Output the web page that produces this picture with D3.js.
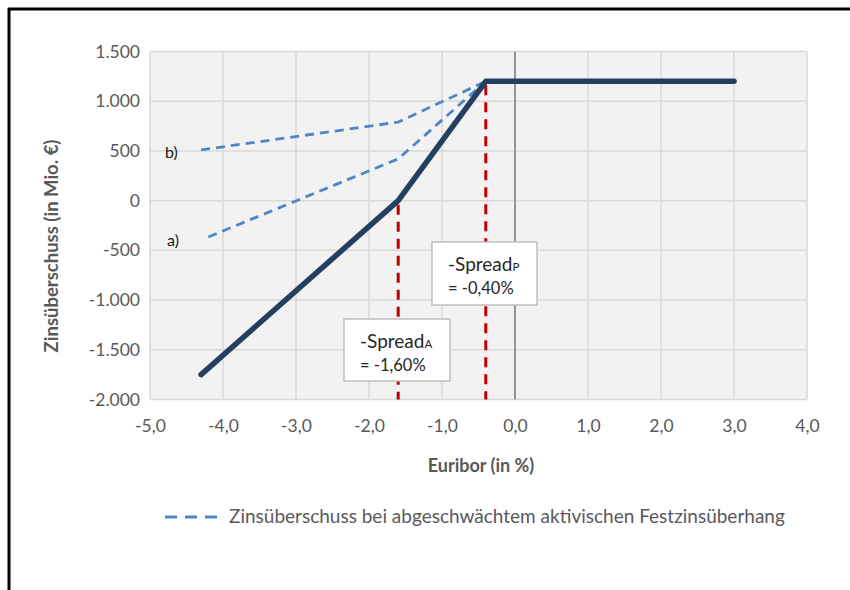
<!DOCTYPE html>
<html><head><meta charset="utf-8">
<script src="https://cdn.jsdelivr.net/npm/d3@7"></script>
<style>body{margin:0;background:#fff;} svg{display:block;}</style>
</head><body>
<svg id="c" width="850" height="590"></svg>
<script>
// ---- data ----
const xTicks = [-5,-4,-3,-2,-1,0,1,2,3,4];
const yTicks = [-2000,-1500,-1000,-500,0,500,1000,1500];
const mainX = [-4.3, -1.6, -0.4, 3.0];
const mainY = [-1750, 0, 1200, 1200];
const aX = [-4.2, -1.6, -0.4];
const aY = [-365, 420, 1200];
const bX = [-4.3, -1.6, -0.4];
const bY = [510, 790, 1200];
const spreadX = [-1.6, -0.4];
const spreadTop = [0, 1200];
const spreadSub = ["A", "P"];
const spreadVal = ["= -1,60%", "= -0,40%"];
const legendText = "Zinsüberschuss bei abgeschwächtem aktivischen Festzinsüberhang";
const xTitle = "Euribor (in %)";
const yTitle = "Zinsüberschuss (in Mio. €)";

const svg = d3.select("#c");
const font = "Lato, 'Open Sans', sans-serif";
const L = 150, R = 807, T = 51.5, B = 399.5;
const x = d3.scaleLinear().domain([-5,4]).range([L,R]);
const y = d3.scaleLinear().domain([-2000,1500]).range([B,T]);
const fmtX = d => d3.format(".1f")(d).replace("−","-").replace(".",",");
const fmtY = d => d3.format(",")(d).replace("−","-").replace(/,/g,".");

// frame
svg.append("line").attr("x1",9).attr("x2",9).attr("y1",8).attr("y2",590).attr("stroke","#000").attr("stroke-width",3);
svg.append("line").attr("x1",8).attr("x2",850).attr("y1",9).attr("y2",9).attr("stroke","#000").attr("stroke-width",3);

// plot background
svg.append("rect").attr("x",L).attr("y",T).attr("width",R-L).attr("height",B-T).attr("fill","#f2f2f2");

// grid
const g = svg.append("g");
g.selectAll(".vg").data(xTicks).join("line")
  .attr("x1",d=>x(d)).attr("x2",d=>x(d)).attr("y1",T).attr("y2",B)
  .attr("stroke","#d9d9d9").attr("stroke-width",1.5);
g.selectAll(".hg").data(yTicks).join("line")
  .attr("x1",L).attr("x2",R).attr("y1",d=>y(d)).attr("y2",d=>y(d))
  .attr("stroke","#d9d9d9").attr("stroke-width",1.5);
// zero vertical axis
svg.append("line").attr("x1",x(0)).attr("x2",x(0)).attr("y1",T).attr("y2",B).attr("stroke","#8c8c8c").attr("stroke-width",1.8);

// axes labels via d3 axes
const yAxis = svg.append("g").attr("transform",`translate(${L},0)`)
  .call(d3.axisLeft(y).tickValues(yTicks).tickFormat(fmtY).tickSize(0).tickPadding(10));
yAxis.select(".domain").remove();
yAxis.selectAll("text").attr("font-family",font).attr("font-size",17.5).attr("fill","#595959");

const xAxis = svg.append("g").attr("transform",`translate(0,${B})`)
  .call(d3.axisBottom(x).tickValues(xTicks).tickFormat(fmtX).tickSize(0).tickPadding(20));
xAxis.select(".domain").remove();
xAxis.selectAll("text").attr("font-family",font).attr("font-size",17.5).attr("fill","#595959");

// titles
svg.append("text").attr("x",481).attr("y",472).attr("text-anchor","middle")
  .attr("font-family",font).attr("font-size",18).attr("font-weight","bold").attr("fill","#595959").text(xTitle);
svg.append("text").attr("transform","translate(58,246) rotate(-90)").attr("text-anchor","middle")
  .attr("font-family",font).attr("font-size",18.5).attr("font-weight","bold").attr("fill","#595959").text(yTitle);

// red spread lines
spreadX.forEach((sx,i)=>{
  svg.append("line").attr("x1",x(sx)).attr("x2",x(sx)).attr("y1",y(spreadTop[i])+4).attr("y2",B)
    .attr("stroke","#c00000").attr("stroke-width",3).attr("stroke-dasharray","10,7");
});

// dashed lines a and b
const line = d3.line().x(d=>x(d[0])).y(d=>y(d[1]));
[[bX,bY],[aX,aY]].forEach(([xs,ys])=>{
  svg.append("path").datum(xs.map((v,i)=>[v,ys[i]])).attr("d",line)
    .attr("fill","none").attr("stroke","#4f86c6").attr("stroke-width",2.8).attr("stroke-dasharray","9,6");
});

// main line
svg.append("path").datum(mainX.map((v,i)=>[v,mainY[i]])).attr("d",line)
  .attr("fill","none").attr("stroke","#243f60").attr("stroke-width",5.5)
  .attr("stroke-linecap","round").attr("stroke-linejoin","round");

// a) b) labels
svg.append("text").attr("x",165).attr("y",158).attr("font-family",font).attr("font-size",16).attr("fill","#1a1a1a").text("b)");
svg.append("text").attr("x",167).attr("y",246).attr("font-family",font).attr("font-size",16).attr("fill","#1a1a1a").text("a)");

// annotation boxes
const boxes = [{x:344,y:319,w:106,h:62,tx:360},{x:432,y:242,w:105,h:63,tx:448}];
boxes.forEach((b,i)=>{
  svg.append("rect").attr("x",b.x).attr("y",b.y).attr("width",b.w).attr("height",b.h)
    .attr("fill","#fff").attr("stroke","#bfbfbf").attr("stroke-width",1.5);
  const t = svg.append("text").attr("x",b.tx).attr("y",b.y+29).attr("font-family",font).attr("font-size",19).attr("fill","#262626");
  t.append("tspan").text("-Spread");
  t.append("tspan").attr("font-size",11.5).text(spreadSub[i]);
  svg.append("text").attr("x",b.tx).attr("y",b.y+52).attr("font-family",font).attr("font-size",16.5).attr("fill","#262626").text(spreadVal[i]);
});

// legend
svg.append("line").attr("x1",165).attr("x2",222).attr("y1",517).attr("y2",517)
  .attr("stroke","#4f86c6").attr("stroke-width",2.8).attr("stroke-dasharray","12,8");
svg.append("text").attr("x",229).attr("y",523).attr("font-family",font).attr("font-size",19).attr("fill","#595959").text(legendText);
</script>
</body></html>
